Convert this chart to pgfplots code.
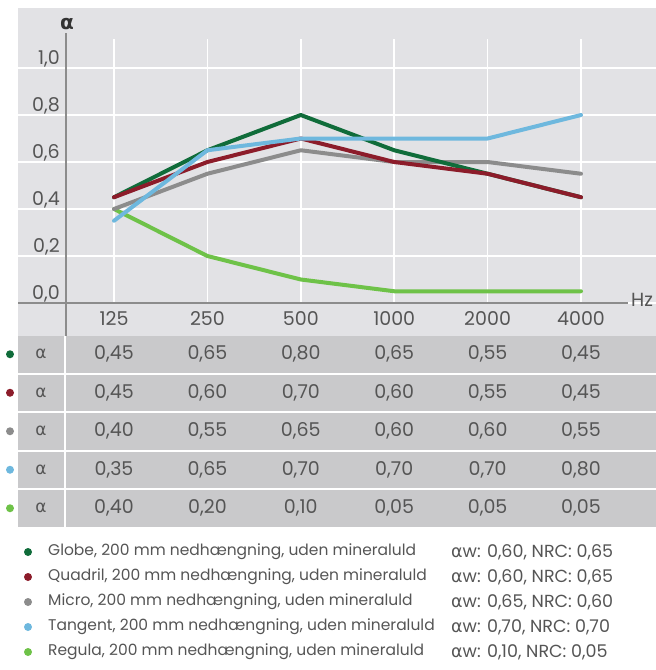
\documentclass[border=0pt]{standalone}
\usepackage{pgfplots}
\pgfplotsset{compat=1.18}
\usepackage{pgfplotstable}
\usepackage{fontspec}
\setmainfont{Poppins}
\newfontfamily\alphafont{DejaVu Sans}

\definecolor{plotbg}{RGB}{226,226,229}
\definecolor{rowbg}{RGB}{201,201,203}
\definecolor{txt}{RGB}{85,85,85}
\definecolor{axisgray}{RGB}{140,140,140}
\definecolor{globe}{RGB}{16,108,58}
\definecolor{quadril}{RGB}{140,28,42}
\definecolor{micro}{RGB}{140,140,140}
\definecolor{tangent}{RGB}{110,184,222}
\definecolor{regula}{RGB}{110,194,72}

% absorption coefficient per octave band
\pgfplotstableread{
i  f     globe quadril micro tangent regula
0  125   0.45  0.45    0.40  0.35    0.40
1  250   0.65  0.60    0.55  0.65    0.20
2  500   0.80  0.70    0.65  0.70    0.10
3  1000  0.65  0.60    0.60  0.70    0.05
4  2000  0.55  0.55    0.60  0.70    0.05
5  4000  0.45  0.45    0.55  0.80    0.05
}\absdata

\newcommand{\tabfont}{\fontsize{19}{22}\selectfont}
\newcommand{\legfont}{\fontsize{15.5}{18}\selectfont}
\newcommand{\valfont}{\fontsize{17.5}{20}\selectfont}

\pgfplotsset{
  tabrow/.style={draw=none, mark=none,
    point meta=explicit,
    nodes near coords={\pgfmathprintnumber[fixed,fixed zerofill,precision=2,use comma,assume math mode=true]{\pgfplotspointmeta}},
    every node near coord/.append style={anchor=center, inner sep=0pt, font=\tabfont, text=txt}},
  curve/.style={line width=4pt, line join=round, line cap=round},
}

\begin{document}
\begin{tikzpicture}
\useasboundingbox (0,0) rectangle (656pt,-670pt);
\begin{scope}[x=1pt,y=1pt]
  \fill[plotbg] (18,-8) rectangle (656,-336);
  \foreach \k in {0,...,4}
    \fill[rowbg] (18,{-336-38.5*\k}) rectangle (656,{-372.5-38.5*\k});
\end{scope}

\begin{axis}[
  at={(18pt,-303pt)}, anchor=south west,
  scale only axis, width=638pt, height=295pt,
  xmin=-1.028, xmax=5.803, ymin=0, ymax=1.2553,
  clip=false,
  axis line style={draw=none},
  major tick length=0pt,
  ytick={0,0.2,0.4,0.6,0.8,1.0},
  ymajorgrids, grid style={white, line width=1.6pt},
  xtick={0,...,5}, xticklabels={125,250,500,1000,2000,4000},
  tick label style={font=\tabfont, text=txt},
  xticklabel style={anchor=base, yshift=-22pt, inner sep=0pt},
  yticklabel={\pgfmathprintnumber[fixed,fixed zerofill,precision=1,use comma,assume math mode=true]{\tick}},
  yticklabel style={anchor=south east, xshift=43pt, inner sep=1pt},
]
  \pgfplotsinvokeforeach{0,...,5}{
    \draw[white, line width=1.6pt] (axis cs:#1,0) -- (axis cs:#1,1.123);
  }
  \addplot[regula, curve] table[x=i, y=regula] {\absdata};
  \addplot[micro, curve] table[x=i, y=micro] {\absdata};
  \addplot[globe, curve] table[x=i, y=globe] {\absdata};
  \addplot[quadril, curve] table[x=i, y=quadril] {\absdata};
  \addplot[tangent, curve] table[x=i, y=tangent] {\absdata};

  \addplot[tabrow] table[x=i, y expr=-0.2181, meta=globe] {\absdata};
  \addplot[tabrow] table[x=i, y expr=-0.3819, meta=quadril] {\absdata};
  \addplot[tabrow] table[x=i, y expr=-0.5457, meta=micro] {\absdata};
  \addplot[tabrow] table[x=i, y expr=-0.7096, meta=tangent] {\absdata};
  \addplot[tabrow] table[x=i, y expr=-0.8734, meta=regula] {\absdata};
\end{axis}

\begin{scope}[x=1pt,y=1pt]
  \draw[axisgray, line width=1.1pt] (18,-303) -- (628,-303);
  \draw[axisgray, line width=1.1pt] (66,-33) -- (66,-336);
  \draw[white, line width=2.5pt] (65,-336) -- (65,-526.5);
  \node[font=\alphafont\bfseries\fontsize{20}{22}\selectfont, text=black!80] at (67,-24) {α};
  \node[anchor=west, inner sep=0pt, font=\tabfont, text=txt] at (631,-300) {Hz};
  \foreach \c [count=\k from 0] in {globe,quadril,micro,tangent,regula} {
    \fill[\c] (10,{-354.25-38.5*\k}) circle (4);
    \node[font=\alphafont\fontsize{17}{20}\selectfont, text=txt] at (41,{-354.25-38.5*\k}) {α};
  }
  % legend
  \foreach \c/\y in {globe/552,quadril/577,micro/602,tangent/627,regula/652}
    \fill[\c] (28,-\y) circle (4);
  \begin{scope}[every node/.style={anchor=west, inner sep=0pt, font=\legfont, text=txt}]
    \node at (48,-552) {Globe, 200 mm nedhængning, uden mineraluld};
    \node at (48,-577) {Quadril, 200 mm nedhængning, uden mineraluld};
    \node at (48,-602) {Micro, 200 mm nedhængning, uden mineraluld};
    \node at (48,-627) {Tangent, 200 mm nedhængning, uden mineraluld};
    \node at (48,-652) {Regula, 200 mm nedhængning, uden mineraluld};
  \end{scope}
  \begin{scope}[every node/.style={anchor=west, inner sep=0pt, font=\valfont, text=txt}]
    \node at (451,-552) {{\alphafont α}w: 0,60, NRC: 0,65};
    \node at (451,-577) {{\alphafont α}w: 0,60, NRC: 0,65};
    \node at (451,-602) {{\alphafont α}w: 0,65, NRC: 0,60};
    \node at (451,-627) {{\alphafont α}w: 0,70, NRC: 0,70};
    \node at (451,-652) {{\alphafont α}w: 0,10, NRC: 0,05};
  \end{scope}
\end{scope}
\end{tikzpicture}
\end{document}
